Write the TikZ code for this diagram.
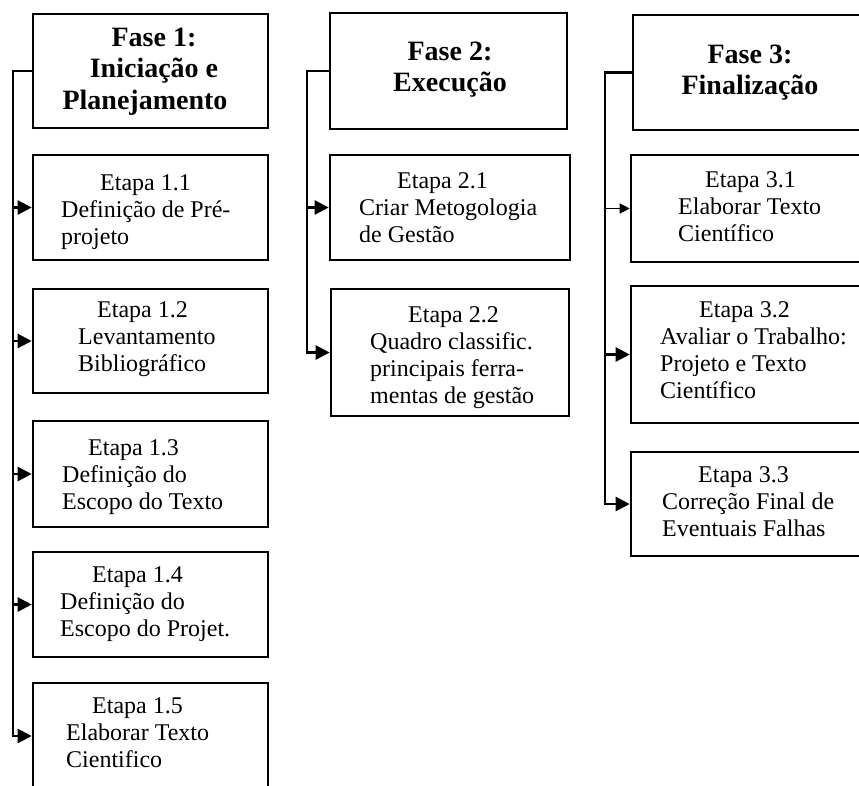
\documentclass[tikz,border=0pt]{standalone}
\usepackage{fontspec}
\setmainfont{Liberation Serif}
\usetikzlibrary{arrows.meta}
\newcommand\etlines[1]{\begin{tabular}[t]{@{}l@{}}#1\end{tabular}}
\newcommand\hdlines[1]{\begin{tabular}[t]{@{}c@{}}#1\end{tabular}}
\begin{document}
\begin{tikzpicture}[x=1pt,y=-1pt,
  box/.style={draw, line width=2.6pt, inner sep=0pt},
  etxt/.style={anchor=base west, inner sep=0pt, font=\fontsize{24}{27}\selectfont},
  htxt/.style={anchor=base, inner sep=0pt, font=\fontsize{28}{31.5}\selectfont\bfseries},
  conn/.style={line width=2.4pt},
  thinconn/.style={line width=1.3pt},
  arr/.style={-{Triangle[length=14pt,width=14pt]}},
  smallarr/.style={-{Triangle[length=10pt,width=10pt]}}
]
\useasboundingbox (0,0) rectangle (859,785);
\clip (0,0) rectangle (859,785);

% ---------- Phase 1 ----------
\node[box, minimum width=235pt, minimum height=114pt] (F1) at (150.5,71) {};
\node[box, minimum width=235pt, minimum height=105pt] (E11) at (150.5,207.5) {};
\node[box, minimum width=235pt, minimum height=104pt] (E12) at (150.5,341) {};
\node[box, minimum width=235pt, minimum height=106pt] (E13) at (150.5,474) {};
\node[box, minimum width=235pt, minimum height=105pt] (E14) at (150.5,604.5) {};
\node[box, minimum width=235pt, minimum height=106pt] (E15) at (150.5,736) {};

\node[htxt] (F1t) at (154,46) {\hdlines{Fase 1:\\Iniciação e\\Planejamento\hspace*{18pt}}};
\node[etxt] (E11t) at (61,190) {\etlines{\hspace*{39pt}Etapa 1.1\\Definição de Pré-\\projeto}};
\node[etxt] (E12t) at (78,317) {\etlines{\hspace*{19pt}Etapa 1.2\\Levantamento\\Bibliográfico}};
\node[etxt] (E13t) at (62,455) {\etlines{\hspace*{26pt}Etapa 1.3\\Definição do\\Escopo do Texto}};
\node[etxt] (E14t) at (60,582) {\etlines{\hspace*{32pt}Etapa 1.4\\Definição do\\Escopo do Projet.}};
\node[etxt] (E15t) at (66,713) {\etlines{\hspace*{26pt}Etapa 1.5\\Elaborar Texto\\Cientifico}};

\coordinate (t1) at (13,0);
\draw[conn, arr] (F1.west) -- (F1.west -| t1) -- (E15.west -| t1) -- (E15.west);
\foreach \e in {E11,E12,E13,E14}
  \draw[conn, arr] (\e.west -| t1) -- (\e.west);

% ---------- Phase 2 ----------
\node[box, minimum width=237pt, minimum height=116pt] (F2) at (448.5,71) {};
\node[box, minimum width=240pt, minimum height=105pt] (E21) at (450,207.5) {};
\node[box, minimum width=238pt, minimum height=127pt] (E22) at (450,352.5) {};

\node[htxt] (F2t) at (450,60) {\hdlines{Fase 2:\\Execução}};
\node[etxt] (E21t) at (359,188) {\etlines{\hspace*{38pt}Etapa 2.1\\Criar Metogologia\\de Gestão}};
\node[etxt] (E22t) at (370,322) {\etlines{\hspace*{38pt}Etapa 2.2\\Quadro classific.\\principais ferra-\\mentas de gestão}};

\coordinate (t2) at (307,0);
\draw[conn, arr] (F2.west) -- (F2.west -| t2) -- (E22.west -| t2) -- (E22.west);
\draw[conn, arr] (E21.west -| t2) -- (E21.west);

% ---------- Phase 3 ----------
\node[box, minimum width=237pt, minimum height=115pt] (F3) at (751.5,72.5) {};
\node[box, minimum width=239pt, minimum height=107pt] (E31) at (750.5,208.5) {};
\node[box, minimum width=239pt, minimum height=137pt] (E32) at (750.5,354.5) {};
\node[box, minimum width=239pt, minimum height=104pt] (E33) at (750.5,504) {};

\node[htxt] (F3t) at (750,63) {\hdlines{Fase 3:\\Finalização}};
\node[etxt] (E31t) at (678,187) {\etlines{\hspace*{27pt}Etapa 3.1\\Elaborar Texto\\Científico}};
\node[etxt] (E32t) at (660,317) {\etlines{\hspace*{39pt}Etapa 3.2\\Avaliar o Trabalho:\\Projeto e Texto\\Científico}};
\node[etxt] (E33t) at (662,482) {\etlines{\hspace*{36pt}Etapa 3.3\\Correção Final de\\Eventuais Falhas}};

\coordinate (t3) at (605,0);
\draw[conn, arr] (F3.west) -- (F3.west -| t3) -- (E33.west -| t3) -- (E33.west);
\draw[thinconn, smallarr] (E31.west -| t3) -- (E31.west);
\draw[conn, arr] (E32.west -| t3) -- (E32.west);
\end{tikzpicture}
\end{document}
